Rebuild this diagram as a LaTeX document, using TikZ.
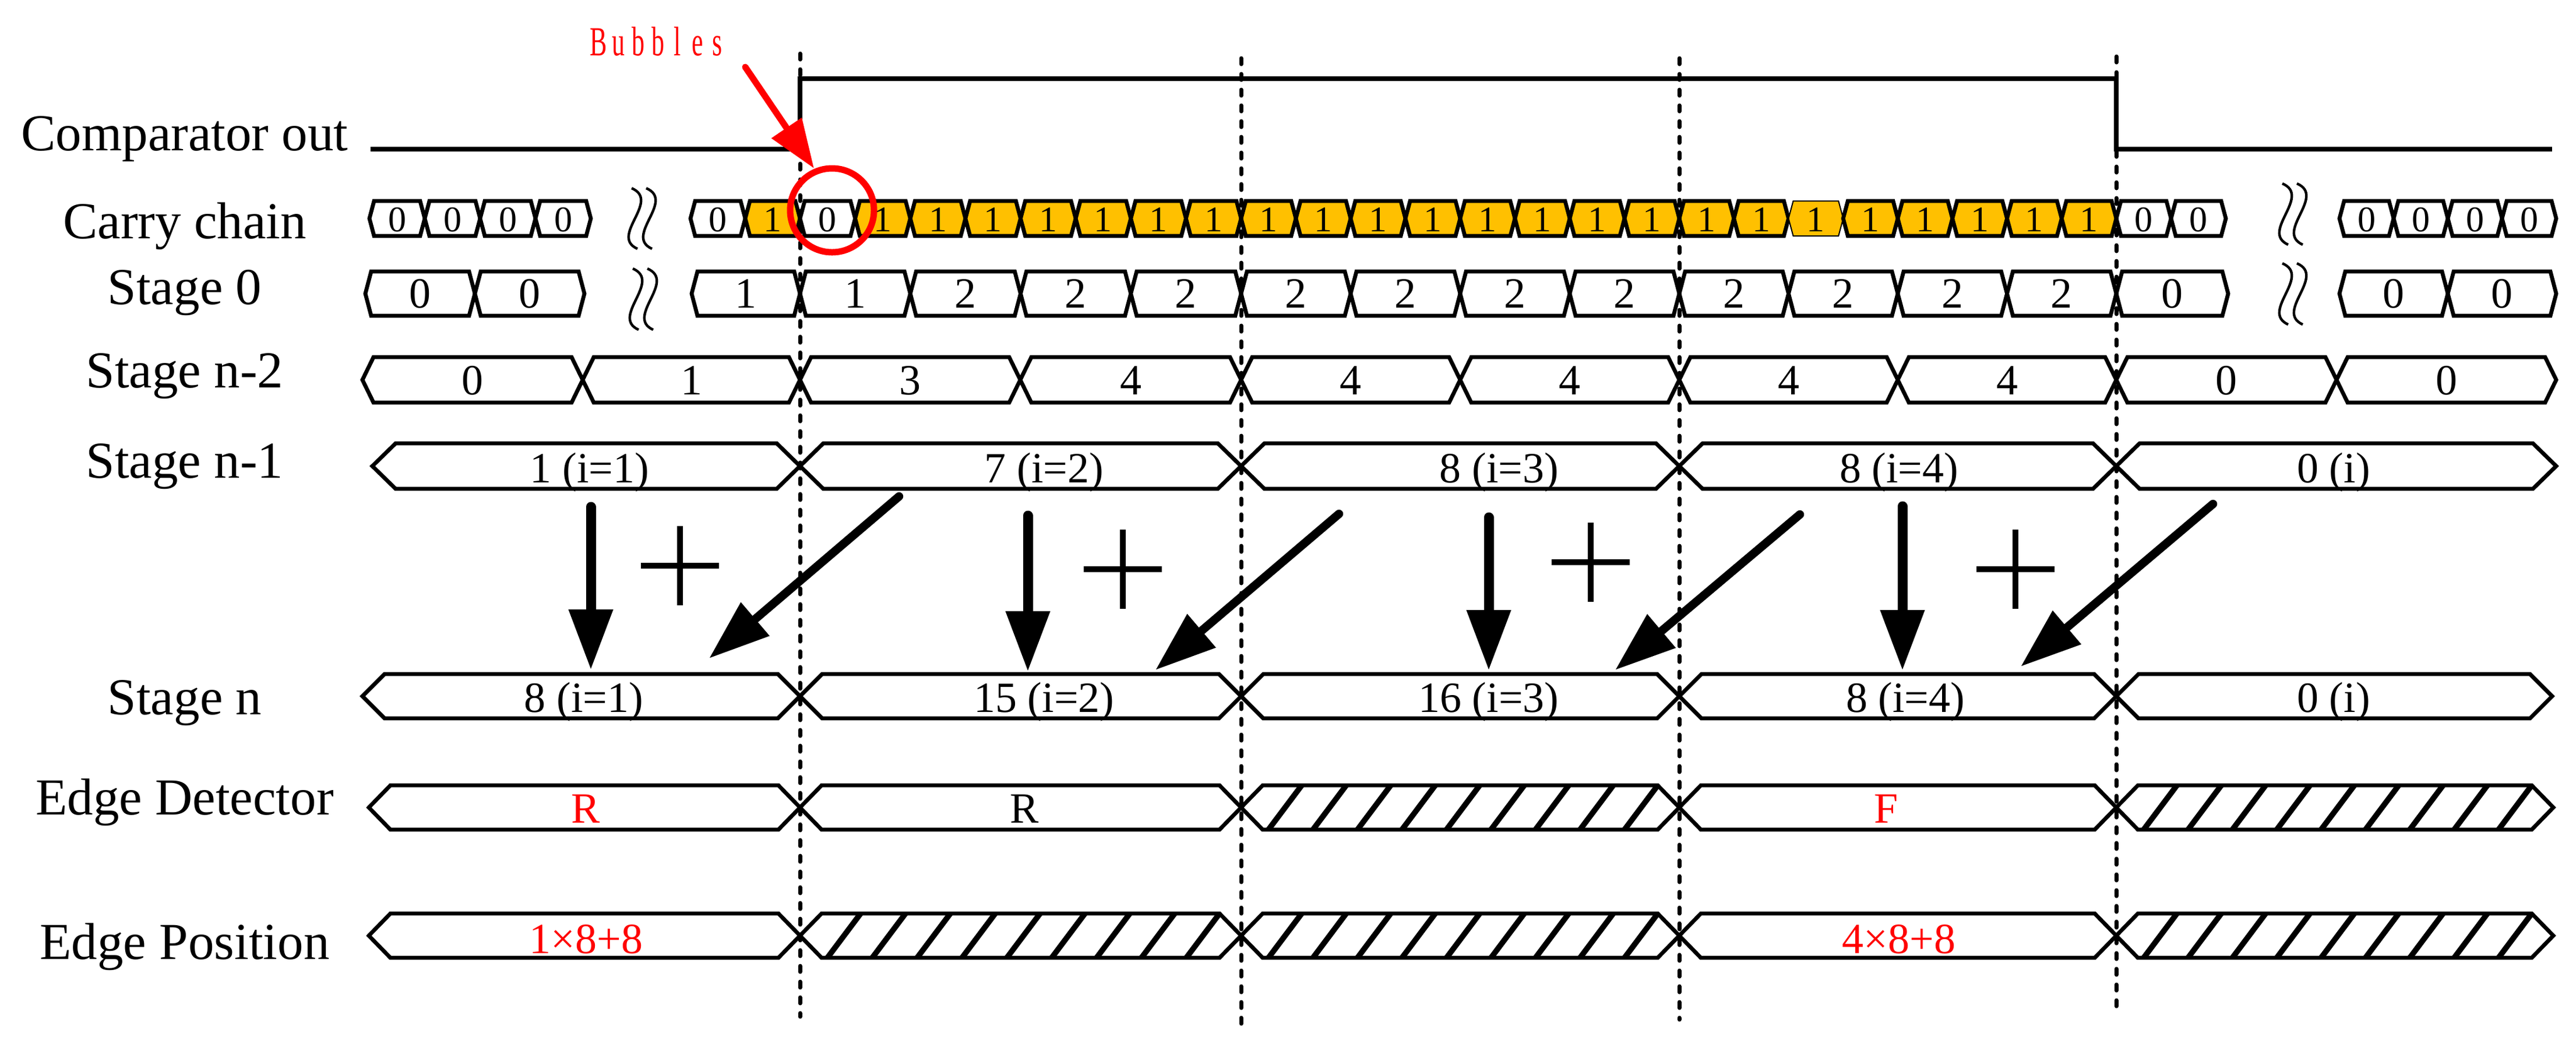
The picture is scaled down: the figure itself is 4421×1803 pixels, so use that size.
\documentclass[tikz,border=0pt]{standalone}
\usepackage{fontspec}
\setmainfont{Liberation Serif}
\usetikzlibrary{arrows.meta}
\definecolor{cgold}{HTML}{FFC000}
\definecolor{cred}{HTML}{FF0000}
\tikzset{
  cellline/.style={line width=1.7pt, line join=miter, miter limit=10},
  hatchline/.style={line width=2.4pt},
  lbl/.style={font=\fontsize{22.25}{26}\selectfont, anchor=base, inner sep=0pt},
  celltxt/.style={font=\fontsize{18.5}{22}\selectfont, anchor=base, inner sep=0pt},
  carrytxt/.style={font=\fontsize{15.5}{18}\selectfont, anchor=base, inner sep=0pt},
  redtxt/.style={celltxt, text=cred},
  guide/.style={line width=1.75pt, dash pattern=on 2.5pt off 4.25pt, line cap=round},
  breakline/.style={line width=1.1pt},
  signal/.style={line width=2.1pt, line join=miter},
  downarrow/.style={line width=4.25pt, line cap=round, -{Triangle[length=26pt,width=18pt]}},
  diagarrow/.style={line width=3.6pt, line cap=round, -{Triangle[length=26pt,width=18pt]}},
  plussign/.style={line width=2.5pt},
  redarrow/.style={draw=cred, line width=2.75pt, line cap=round, -{Triangle[length=21pt,width=15pt]}},
  redring/.style={circle, draw=cred, line width=2.75pt, minimum size=36pt, inner sep=0pt},
  bubtxt/.style={font=\fontsize{17.75}{20}\selectfont, text=cred, anchor=base, inner sep=0pt},
}
\newcommand{\bchar}[1]{\makebox[8.5pt][c]{\scalebox{0.62}[1]{#1}}}
\newcommand{\hexshape}[6]{%
  \filldraw[cellline, fill=#6] (#1,#3) -- ({#1+#5},{#3-#4}) -- ({#2-#5},{#3-#4}) -- (#2,#3) -- ({#2-#5},{#3+#4}) -- ({#1+#5},{#3+#4}) -- cycle;}
\newcommand{\hatchcell}[5]{%
  \hexshape{#1}{#2}{#3}{#4}{#5}{white}
  \foreach \hk in {0,...,8}{
    \pgfmathsetmacro\hxb{#1+#5+10+\hk*(#2-#1-2*#5-67)/8}
    \draw[hatchline] (\hxb,{#3+#4}) -- ({\hxb+57},{#3-#4});
  }}
\newcommand{\breaksym}[3]{%
  \foreach \bo in {0,25}{
    \draw[breakline] ({#1+\bo},#2) .. controls ({#1+\bo+51},{#2+0.21*#3}) and ({#1+\bo-39},{#2+0.79*#3}) .. ({#1+\bo+10},{#2+#3});
  }}
\begin{document}
\begin{tikzpicture}[x=0.25pt,y=-0.25pt]
\useasboundingbox (0,0) rectangle (4421,1803);

% ---- row labels
\node[lbl] (Lcmp) at (317,258) {Comparator out};
\node[lbl] (Lcar) at (317,409) {Carry chain};
\node[lbl] (Ls0) at (317,522) {Stage 0};
\node[lbl] (Ln2) at (317,665) {Stage n-2};
\node[lbl] (Ln1) at (317,820) {Stage n-1};
\node[lbl] (Ln) at (317,1226) {Stage n};
\node[lbl] (Led) at (317,1398) {Edge Detector};
\node[lbl] (Lep) at (317,1646) {Edge Position};

% ---- comparator output
\coordinate (c0) at (636,256);
\coordinate (c1) at (1373,256);
\coordinate (c2) at (1373,135);
\coordinate (c3) at (3632,135);
\coordinate (c4) at (3632,256);
\coordinate (c5) at (4380,256);
\draw[signal] (c0) -- (c1) -- (c2) -- (c3) -- (c4) -- (c5);

% ---- carry chain
\foreach \k in {0,...,3}{
  \pgfmathsetmacro\L{634+95*\k}\pgfmathsetmacro\R{\L+95}\pgfmathsetmacro\M{\L+47.5}
  \hexshape{\L}{\R}{375}{30}{8}{white}
  \node[carrytxt] (ca\k) at (\M,397) {0};
}
\hexshape{1185}{1279}{375}{30}{8}{white}
\node[carrytxt] (cb0) at (1232,397) {0};
\hexshape{1279}{1373}{375}{30}{8}{cgold}
\node[carrytxt] (cb1) at (1326,397) {1};
\foreach \a/\b/\j in {1373/2130/1,2130/2882/2,2882/3632/3}{
  \foreach \k in {0,...,7}{
    \pgfmathsetmacro\L{\a+(\b-\a)*\k/8}
    \pgfmathsetmacro\R{\a+(\b-\a)*(\k+1)/8}
    \pgfmathsetmacro\M{(\L+\R)/2}
    \ifnum\j\k=10 \def\cf{white}\def\ct{0}\else\def\cf{cgold}\def\ct{1}\fi
    \ifnum\j\k=32
      \filldraw[line width=0.5pt, fill=cgold] (\L,375) -- ({\L+8},345) -- ({\R-8},345) -- (\R,375) -- ({\R-8},405) -- ({\L+8},405) -- cycle;
    \else
      \hexshape{\L}{\R}{375}{30}{8}{\cf}
    \fi
    \node[carrytxt] (cc\j\k) at (\M,397) {\ct};
  }
}
\hexshape{3632}{3726}{375}{30}{8}{white}
\node[carrytxt] (cd0) at (3679,397) {0};
\hexshape{3726}{3820}{375}{30}{8}{white}
\node[carrytxt] (cd1) at (3773,397) {0};
\foreach \k in {0,...,3}{
  \pgfmathsetmacro\L{4015+93*\k}\pgfmathsetmacro\R{\L+93}\pgfmathsetmacro\M{\L+46.5}
  \hexshape{\L}{\R}{375}{30}{8}{white}
  \node[carrytxt] (ce\k) at (\M,397) {0};
}

% ---- breaks
\breaksym{1084}{323}{104}
\breaksym{1086}{461}{105}
\breaksym{3917}{315}{105}
\breaksym{3917}{452}{105}

% ---- stage 0
\hexshape{627}{815}{504}{38}{10}{white}
\node[celltxt] (sa0) at (721,528) {0};
\hexshape{815}{1003}{504}{38}{10}{white}
\node[celltxt] (sa1) at (909,528) {0};
\hexshape{1187}{1373}{504}{38}{10}{white}
\node[celltxt] (sb0) at (1280,528) {1};
\foreach \a/\b/\j in {1373/2130/1,2130/2882/2,2882/3632/3}{
  \foreach \k in {0,...,3}{
    \pgfmathsetmacro\L{\a+(\b-\a)*\k/4}
    \pgfmathsetmacro\R{\a+(\b-\a)*(\k+1)/4}
    \pgfmathsetmacro\M{(\L+\R)/2}
    \ifnum\j\k=10 \def\ct{1}\else\def\ct{2}\fi
    \hexshape{\L}{\R}{504}{38}{10}{white}
    \node[celltxt] (sc\j\k) at (\M,528) {\ct};
  }
}
\hexshape{3632}{3824}{504}{38}{10}{white}
\node[celltxt] (sd0) at (3728,528) {0};
\hexshape{4015}{4201}{504}{38}{10}{white}
\node[celltxt] (se0) at (4108,528) {0};
\hexshape{4201}{4387}{504}{38}{10}{white}
\node[celltxt] (se1) at (4294,528) {0};

% ---- stage n-2
\foreach \L/\R/\t/\n in {622/1000/0/a,1000/1373/1/b,1373/1751/3/c,1751/2130/4/d,2130/2506/4/e,2506/2882/4/f,2882/3257/4/g,3257/3632/4/h,3632/4010/0/i,4010/4387/0/j}{
  \hexshape{\L}{\R}{652}{39}{19}{white}
  \pgfmathsetmacro\M{(\L+\R)/2}
  \node[celltxt] (mt\n) at (\M,677) {\t};
}

% ---- stage n-1
\foreach \L/\R/\x/\t/\n in {639/1373/1012/{1 (i=1)}/a,1373/2130/1792/{7 (i=2)}/b,2130/2882/2573/{8 (i=3)}/c,2882/3632/3259/{8 (i=4)}/d,3632/4387/4005/{0 (i)}/e}{
  \hexshape{\L}{\R}{800}{39}{40}{white}
  \node[celltxt] (mo\n) at (\x,828) {\t};
}

% ---- stage n
\foreach \L/\R/\x/\t/\n in {622/1373/1002/{8 (i=1)}/a,1373/2130/1792/{15 (i=2)}/b,2130/2882/2555/{16 (i=3)}/c,2882/3632/3270/{8 (i=4)}/d,3632/4380/4005/{0 (i)}/e}{
  \hexshape{\L}{\R}{1195}{38}{38}{white}
  \node[celltxt] (mn\n) at (\x,1222) {\t};
}

% ---- edge detector
\hexshape{633}{1373}{1386}{38}{37}{white}
\node[redtxt] (eda) at (1005,1412) {R};
\hexshape{1373}{2130}{1386}{38}{37}{white}
\node[celltxt] (edb) at (1758,1412) {R};
\hatchcell{2130}{2882}{1386}{38}{37}
\hexshape{2882}{3632}{1386}{38}{37}{white}
\node[redtxt] (edd) at (3237,1412) {F};
\hatchcell{3632}{4382}{1386}{38}{37}

% ---- edge position
\hexshape{633}{1373}{1606}{38}{37}{white}
\node[redtxt] (epa) at (1006,1636) {1×8+8};
\hatchcell{1373}{2130}{1606}{38}{37}
\hatchcell{2130}{2882}{1606}{38}{37}
\hexshape{2882}{3632}{1606}{38}{37}{white}
\node[redtxt] (epd) at (3259,1636) {4×8+8};
\hatchcell{3632}{4382}{1606}{38}{37}

% ---- dashed guide lines
\coordinate (g1t) at (1373,92);   \coordinate (g1b) at (1373,1745);
\coordinate (g2t) at (2130,100);  \coordinate (g2b) at (2130,1760);
\coordinate (g3t) at (2882,100);  \coordinate (g3b) at (2882,1750);
\coordinate (g4t) at (3632,97);   \coordinate (g4b) at (3632,1730);
\draw[guide] (g1t) -- (g1b);
\draw[guide] (g2t) -- (g2b);
\draw[guide] (g3t) -- (g3b);
\draw[guide] (g4t) -- (g4b);

% ---- accumulation arrows
\foreach \x/\ya/\yb/\n in {1014/870/1150/1,1764/885/1153/2,2555/888/1151/3,3265/869/1151/4}{
  \coordinate (va\n) at (\x,\ya);
  \coordinate (vb\n) at (\x,\yb);
  \draw[downarrow] (va\n) -- (vb\n);
}
\foreach \xa/\ya/\xb/\yb/\n in {1543/852/1217/1130/1,2298/882/1983/1150/2,3089/883/2772/1150/3,3798/865/3468/1144/4}{
  \coordinate (da\n) at (\xa,\ya);
  \coordinate (db\n) at (\xb,\yb);
  \draw[diagarrow] (da\n) -- (db\n);
}
\foreach \x/\y in {1167/971,1927/977,2730/965,3459/977}{
  \draw[plussign] (\x-67,\y) -- (\x+67,\y);
  \draw[plussign] (\x,\y-68) -- (\x,\y+68);
}

% ---- bubble annotation
\node[redring] (ring) at (1428,361) {};
\node[bubtxt] (bub) at (1129,95) {\bchar{B}\bchar{u}\bchar{b}\bchar{b}\bchar{l}\bchar{e}\bchar{s}};
\coordinate (rta) at (1279,115);
\coordinate (rtb) at (1397,289);
\draw[redarrow] (rta) -- (rtb);
\end{tikzpicture}
\end{document}
